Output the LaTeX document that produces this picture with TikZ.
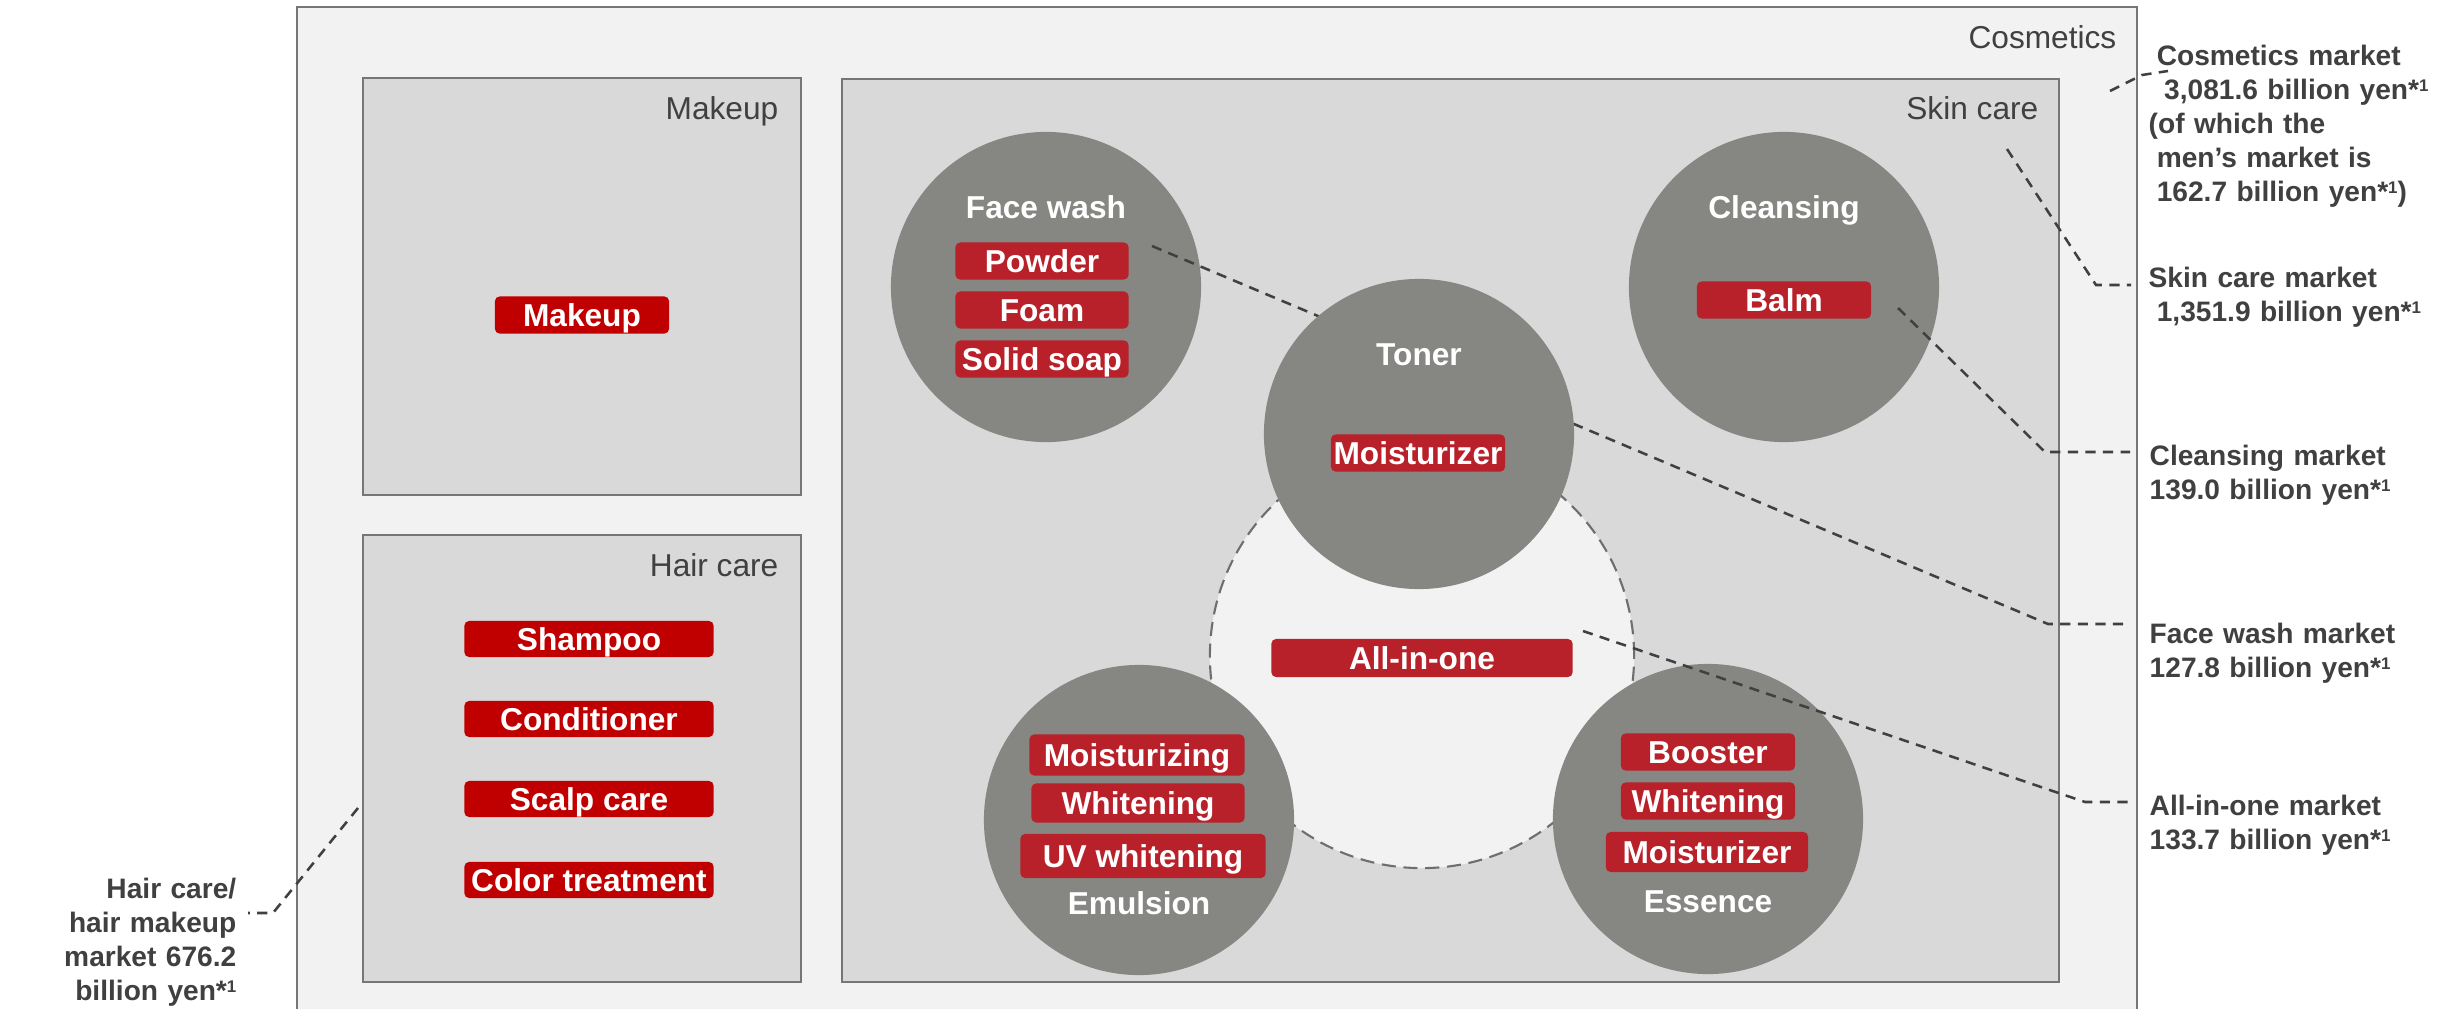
\documentclass[tikz,border=0pt]{standalone}
\usepackage{fontspec}
\setmainfont{Liberation Sans}
\definecolor{boxout}{HTML}{F2F2F2}
\definecolor{boxin}{HTML}{D9D9D9}
\definecolor{boxline}{HTML}{767676}
\definecolor{circfill}{HTML}{868783}
\definecolor{tagred}{HTML}{B9212A}
\definecolor{tagdark}{HTML}{C00000}
\definecolor{txt}{HTML}{404040}
\definecolor{dashc}{HTML}{404040}
\definecolor{dcirc}{HTML}{6E6E6E}
\tikzset{
 panel/.style={draw=boxline, line width=0.8pt},
 boxlabel/.style={anchor=base east, inner sep=0pt, text=txt, font=\fontsize{9pt}{11pt}\selectfont},
 circ/.style={circle, fill=circfill, minimum size=3.1cm, inner sep=0pt},
 circlabel/.style={anchor=base, inner sep=0pt, text=white, font=\bfseries\fontsize{9pt}{11pt}\selectfont},
 tag/.style={fill=tagred, rounded corners=1.3pt, text=white, font=\bfseries\fontsize{9pt}{11pt}\selectfont, inner sep=0pt, text height=6.45pt, text depth=0pt, minimum height=0.37cm},
 tagdk/.style={tag, fill=tagdark},
 conn/.style={draw=dashc, line width=0.72pt, dash pattern=on 2.9pt off 2.1pt},
 note/.style={inner sep=0pt, text=txt, font=\bfseries\fontsize{8pt}{9.7pt}\selectfont, text width=3cm, align=left, anchor=base west},
 noteR/.style={inner sep=0pt, text=txt, font=\bfseries\fontsize{8pt}{9.7pt}\selectfont, text width=2.2cm, align=right, anchor=base east},
}
\newcommand{\ysup}{*\raisebox{2.3pt}{\fontsize{4.8pt}{5pt}\selectfont 1}}
\begin{document}
\begin{tikzpicture}[x=0.01cm,y=-0.01cm]
\useasboundingbox[fill=white] (0,0) rectangle (2450,1009);
% panels
\path[panel, fill=boxout] (297,7) rectangle (2137,1016);
\node[boxlabel] (lcos) at (2117,48) {Cosmetics};
\path[panel, fill=boxin] (363,78) rectangle (801,495);
\node[boxlabel] (lmk) at (779,120) {Makeup};
\path[panel, fill=boxin] (363,535) rectangle (801,982);
\node[boxlabel] (lhc) at (779,576) {Hair care};
\path[panel, fill=boxin] (842,79) rectangle (2059,982);
\node[boxlabel] (lsc) at (2039,119) {Skin care};
% all-in-one dashed circle
\node[circle, minimum size=4.24cm, inner sep=0pt, fill=boxout, draw=dcirc, line width=0.6pt, dash pattern=on 4pt off 2.2pt] (aio) at (1422,656) {};
% circles
\node[circ] (fw) at (1046,287) {};
\node[circ] (cl) at (1784,287) {};
\node[circ] (em) at (1139,820) {};
\node[circ] (es) at (1708,819) {};
% face wash connector (behind toner)
\coordinate (fwS) at (1152,246);
\coordinate (fwC) at (2048,624);
\coordinate (fwE) at (2130,624);
\draw[conn] (fwS) -- (fwC) -- (fwE);
\node[circ] (tn) at (1419,434) {};
% circle labels
\node[circlabel] (tfw) at (1046,218) {Face wash};
\node[circlabel] (tcl) at (1784,218) {Cleansing};
\node[circlabel] (ttn) at (1419,365) {Toner};
\node[circlabel] (tem) at (1139,914) {Emulsion};
\node[circlabel] (tes) at (1708,912) {Essence};
% tags
\node[tagdk, minimum width=1.74cm] (gmk) at (582,315) {Makeup};
\node[tagdk, minimum width=2.49cm, minimum height=0.36cm] (gsh) at (589,639) {Shampoo};
\node[tagdk, minimum width=2.49cm, minimum height=0.36cm] (gco) at (589,719) {Conditioner};
\node[tagdk, minimum width=2.49cm, minimum height=0.36cm] (gsc) at (589,799) {Scalp care};
\node[tagdk, minimum width=2.49cm, minimum height=0.36cm] (gct) at (589,880) {Color treatment};
\node[tag, minimum width=1.73cm] (gpo) at (1042,261) {Powder};
\node[tag, minimum width=1.73cm] (gfo) at (1042,310) {Foam};
\node[tag, minimum width=1.73cm] (gso) at (1042,359) {Solid soap};
\node[tag, minimum width=1.74cm] (gba) at (1784,300) {Balm};
\node[tag, minimum width=1.74cm] (gmo) at (1418,453) {Moisturizer};
\node[tag, minimum width=3.01cm, minimum height=0.38cm] (gai) at (1422,658) {All-in-one};
\node[tag, minimum width=2.15cm, minimum height=0.41cm] (gem1) at (1137,755) {Moisturizing};
\node[tag, minimum width=2.13cm, minimum height=0.39cm] (gem2) at (1138,803) {Whitening};
\node[tag, minimum width=2.45cm, minimum height=0.44cm] (gem3) at (1143,856) {UV whitening};
\node[tag, minimum width=1.74cm] (ges1) at (1708,752) {Booster};
\node[tag, minimum width=1.74cm] (ges2) at (1708,801) {Whitening};
\node[tag, minimum width=2.02cm, minimum height=0.40cm] (ges3) at (1707,852) {Moisturizer};
% other connectors
\coordinate (aiS) at (1583,631);
\coordinate (aiC) at (2085,802);
\coordinate (aiE) at (2130,802);
\draw[conn] (aiS) -- (aiC) -- (aiE);
\coordinate (clS) at (1898,308);
\coordinate (clC) at (2045,452);
\coordinate (clE) at (2130,452);
\draw[conn] (clS) -- (clC) -- (clE);
\coordinate (scS) at (2007,149);
\coordinate (scC) at (2096,285);
\coordinate (scE) at (2131,285);
\draw[conn] (scS) -- (scC) -- (scE);
\coordinate (coS) at (2110,91);
\coordinate (coC) at (2142,75);
\coordinate (coE) at (2168,71);
\draw[conn] (coS) -- (coC) -- (coE);
\coordinate (hcS) at (358,808);
\coordinate (hcC) at (273,913);
\coordinate (hcE) at (248,913);
\draw[conn] (hcS) -- (hcC) -- (hcE);
% annotations
\node[note] (ncos) at (2148,65) {\hspace*{2.3pt}Cosmetics market\\\hspace*{4.4pt}3,081.6 billion yen\ysup\\(of which the\\\hspace*{2.3pt}men's market is\\\hspace*{2.3pt}162.7 billion yen\ysup)};
\node[note] (nsc) at (2148,287) {Skin care market\\\hspace*{2.3pt}1,351.9 billion yen\ysup};
\node[note] (ncl) at (2149,465) {Cleansing market\\139.0 billion yen\ysup};
\node[note] (nfw) at (2149,643) {Face wash market\\127.8 billion yen\ysup};
\node[note] (nai) at (2149,815) {All-in-one market\\133.7 billion yen\ysup};
\node[noteR] (nhc) at (237,898) {Hair care/\\hair makeup\\market 676.2\\billion yen\ysup};
\end{tikzpicture}
\end{document}
